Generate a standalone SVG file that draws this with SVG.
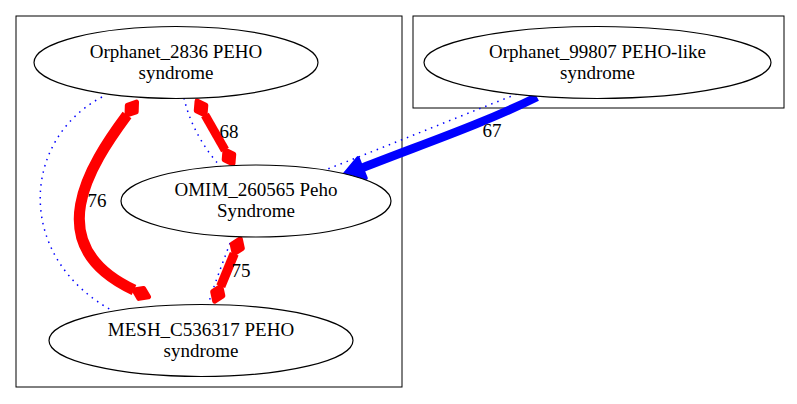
<svg xmlns="http://www.w3.org/2000/svg" width="797" height="404" viewBox="0 0 797 404">
<style>
text{font-family:"Liberation Serif","Times New Roman",serif;font-size:19px;fill:#000;text-anchor:middle}
.cl{fill:none;stroke:#000;stroke-width:1}
.nd{fill:#fff;stroke:#000;stroke-width:1.2}
.red{fill:none;stroke:#f00;marker-start:url(#dia);marker-end:url(#dia)}
.blue{fill:none;stroke:#00f;stroke-width:8.6;marker-end:url(#arr)}
.dot{fill:none;stroke:#00f;stroke-width:1.5;stroke-dasharray:1.5,5}
</style>
<defs>
<marker id="dia" markerUnits="userSpaceOnUse" orient="auto-start-reverse" refX="0" refY="0" markerWidth="30" markerHeight="30" overflow="visible">
<path d="M0,0 L8,-5.5 L16,0 L8,5.5 Z" fill="#f00" stroke="#f00" stroke-width="5" stroke-linejoin="round"/>
</marker>
<marker id="arr" markerUnits="userSpaceOnUse" orient="auto" refX="0" refY="0" markerWidth="30" markerHeight="30" overflow="visible">
<path d="M0,-11 L20,0 L0,11 Z" fill="#00f" stroke="#00f" stroke-width="3.5" stroke-linejoin="round"/>
</marker>
</defs>
<rect x="0" y="0" width="797" height="404" fill="#fff"/>
<g id="cluster_left"><rect class="cl" x="16" y="16" width="386" height="371"/></g>
<g id="cluster_right"><rect class="cl" x="413" y="16" width="371" height="92"/></g>
<g id="connectors">
<path class="dot" d="M102,97 C20,140 15,260 115,312"/>
<path class="dot" d="M184,98 C190,125 205,150 221,167"/>
<path class="dot" d="M230,243 C222,265 214,285 208,305"/>
<path class="dot" d="M517,94 C450,120 390,145 325,170"/>
<path class="red" stroke-width="11" d="M127,115 C90,165 38,245 134,290"/>
<path class="red" stroke-width="8.8" d="M205,115 L225,150"/>
<path class="red" stroke-width="9.4" d="M234.2,253.7 L220.8,286.3"/>
<path class="blue" d="M537,97 C480,125 420,145 362,168"/>
<text x="97" y="207">76</text>
<text x="229" y="138">68</text>
<text x="241" y="277">75</text>
<text x="492" y="137">67</text>
</g>
<g id="orphanet_2836">
<ellipse class="nd" cx="176" cy="62.5" rx="142" ry="36"/>
<text x="176" y="57.6">Orphanet_2836 PEHO</text>
<text x="176" y="78.6">syndrome</text>
</g>
<g id="orphanet_99807">
<ellipse class="nd" cx="597.5" cy="62.5" rx="173.5" ry="36"/>
<text x="597.5" y="57.6">Orphanet_99807 PEHO-like</text>
<text x="597.5" y="78.6">syndrome</text>
</g>
<g id="omim_260565">
<ellipse class="nd" cx="256" cy="201" rx="135" ry="36"/>
<text x="256" y="196.1">OMIM_260565 Peho</text>
<text x="256" y="217.1">Syndrome</text>
</g>
<g id="mesh_c536317">
<ellipse class="nd" cx="201" cy="340.5" rx="152" ry="36"/>
<text x="201" y="335.6">MESH_C536317 PEHO</text>
<text x="201" y="356.6">syndrome</text>
</g>
</svg>
